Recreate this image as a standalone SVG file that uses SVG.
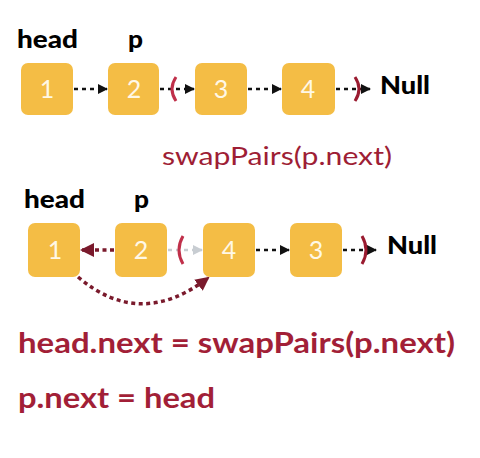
<svg xmlns="http://www.w3.org/2000/svg" width="480" height="458" viewBox="0 0 480 458">
<defs>
<style>
.box{fill:#F4BD45}
.num{font-family:Lato,"Open Sans",sans-serif;font-size:25px;fill:#FFF8E6;text-anchor:middle}
.lbl{font-family:Lato,"Liberation Sans",sans-serif;font-weight:900;font-size:25px;fill:#000}
.code{font-family:Lato,"Liberation Sans",sans-serif;font-weight:bold;font-size:29px;fill:#A21F37}
.blk{stroke:#111;stroke-width:2.5;stroke-dasharray:4 4;fill:none}
.red{stroke:#7A1A2C;stroke-width:3.5;stroke-dasharray:4 3.5;fill:none}
.gry{stroke:#C8CDD2;stroke-width:2.5;stroke-dasharray:4 4;fill:none}
.par{stroke:#C0304A;stroke-width:3;fill:none}
.par2{stroke:#9A1B30;stroke-width:3;fill:none}
</style>
<marker id="ab" markerWidth="10" markerHeight="10" refX="9" refY="5" orient="auto" markerUnits="userSpaceOnUse"><path d="M0,0 L10,5 L0,10 z" fill="#111"/></marker>
<marker id="ar" markerWidth="14" markerHeight="14" refX="12" refY="7" orient="auto" markerUnits="userSpaceOnUse"><path d="M0,0 L14,7 L0,14 z" fill="#7A1A2C"/></marker>
<marker id="ag" markerWidth="10" markerHeight="10" refX="9" refY="5" orient="auto" markerUnits="userSpaceOnUse"><path d="M0,0 L10,5 L0,10 z" fill="#C8CDD2"/></marker>
</defs>
<rect width="480" height="458" fill="#fff"/>

<g id="top-labels">
<text class="lbl" x="17" y="48" textLength="61" lengthAdjust="spacingAndGlyphs">head</text>
<text class="lbl" x="128" y="48" textLength="15" lengthAdjust="spacingAndGlyphs">p</text>
<text class="lbl" x="380" y="94" textLength="50" lengthAdjust="spacingAndGlyphs">Null</text>
</g>
<g id="t1"><rect class="box" x="21" y="63" width="52" height="52" rx="7"/><text class="num" x="47" y="98">1</text></g>
<g id="t2"><rect class="box" x="108" y="63" width="51" height="52" rx="7"/><text class="num" x="134" y="98">2</text></g>
<g id="t3"><rect class="box" x="195" y="63" width="52" height="52" rx="7"/><text class="num" x="221" y="98">3</text></g>
<g id="t4"><rect class="box" x="282" y="63" width="53" height="52" rx="7"/><text class="num" x="308" y="98">4</text></g>

<text id="call" x="162" y="165" font-family="Lato,'Open Sans',sans-serif" font-size="25" fill="#9E1E35" textLength="230" lengthAdjust="spacingAndGlyphs">swapPairs(p.next)</text>

<g id="bottom-labels">
<text class="lbl" x="24" y="208" textLength="61" lengthAdjust="spacingAndGlyphs">head</text>
<text class="lbl" x="134" y="208" textLength="15" lengthAdjust="spacingAndGlyphs">p</text>
<text class="lbl" x="387" y="254" textLength="50" lengthAdjust="spacingAndGlyphs">Null</text>
</g>
<g id="b1"><rect class="box" x="28" y="223" width="52" height="54" rx="7"/><text class="num" x="55" y="259">1</text></g>
<g id="b2"><rect class="box" x="115" y="223" width="52" height="54" rx="7"/><text class="num" x="141" y="259">2</text></g>
<g id="b4"><rect class="box" x="203" y="223" width="52" height="54" rx="7"/><text class="num" x="229" y="259">4</text></g>
<g id="b3"><rect class="box" x="290" y="223" width="52" height="54" rx="7"/><text class="num" x="316" y="259">3</text></g>

<g id="connectors">
<line class="blk" x1="74" y1="89" x2="107" y2="89" marker-end="url(#ab)"/>
<line class="blk" x1="160" y1="89" x2="194" y2="89" marker-end="url(#ab)"/>
<line class="blk" x1="248" y1="89" x2="281" y2="89" marker-end="url(#ab)"/>
<line class="blk" x1="336" y1="89" x2="370" y2="89" marker-end="url(#ab)"/>
<path class="par" d="M176,77 Q168,89 176,101"/>
<path class="par2" d="M355,77 Q363,89 355,101"/>

<line class="red" x1="114" y1="250" x2="82" y2="250" marker-end="url(#ar)"/>
<line class="gry" x1="168" y1="250" x2="202" y2="250" marker-end="url(#ag)"/>
<line class="blk" x1="256" y1="250" x2="289" y2="250" marker-end="url(#ab)"/>
<line class="blk" x1="343" y1="250" x2="376" y2="250" marker-end="url(#ab)"/>
<path class="par" d="M183,236 Q175,250 183,264"/>
<path class="par2" d="M362,236 Q370,250 362,264"/>
<path class="red" d="M78,277 Q140,330 208,278" marker-end="url(#ar)"/>
</g>

<g id="code">
<text class="code" x="18" y="353" textLength="437" lengthAdjust="spacingAndGlyphs">head.next = swapPairs(p.next)</text>
<text class="code" x="18" y="408" textLength="197" lengthAdjust="spacingAndGlyphs">p.next = head</text>
</g>
</svg>
